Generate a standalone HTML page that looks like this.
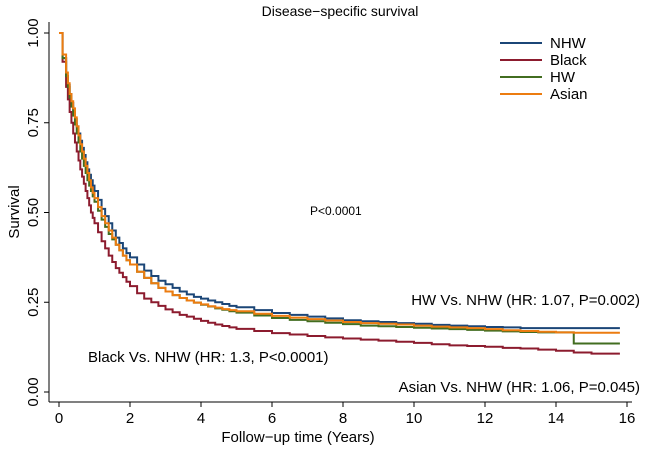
<!DOCTYPE html>
<html><head><meta charset="utf-8"><style>
body{margin:0;background:#fff;}
svg text{font-family:"Liberation Sans",sans-serif;fill:#000;}
</style></head><body>
<svg id="chart" width="650" height="451" viewBox="0 0 650 451" xmlns="http://www.w3.org/2000/svg">
<text x="340" y="16" text-anchor="middle" font-size="14">Disease−specific  survival</text>
<g id="axes"></g>
<g id="series"></g>
<text x="310" y="215" font-size="12">P&lt;0.0001</text>
<text x="640" y="305" text-anchor="end" font-size="15">HW Vs. NHW (HR: 1.07, P=0.002)</text>
<text x="88" y="362" font-size="15">Black Vs. NHW (HR: 1.3, P&lt;0.0001)</text>
<text x="640" y="392" text-anchor="end" font-size="15">Asian Vs. NHW (HR: 1.06, P=0.045)</text>
<text x="298" y="442" text-anchor="middle" font-size="15">Follow−up time (Years)</text>
<text transform="translate(19,212) rotate(-90)" text-anchor="middle" font-size="15">Survival</text>
<g><g id="legend"></g></g>
</svg>
<script>
const times=[0.05,0.1,0.15,0.2,0.25,0.3,0.35,0.4,0.45,0.5,0.55,0.6,0.65,0.7,0.75,0.8,0.85,0.9,0.95,1.0,
1.1,1.2,1.3,1.4,1.5,1.6,1.7,1.8,1.9,2.0,
2.2,2.4,2.6,2.8,3.0,3.2,3.4,3.6,3.8,4.0,4.2,4.4,4.6,4.8,5.0,
5.5,6,6.5,7,7.5,8,8.5,9,9.5,10,10.5,11,11.5,12,12.5,13,13.5,14,14.5,15,15.5,15.8];
const nhw=[1,.93,.93,.88,.855,.83,.805,.78,.76,.74,.72,.70,.68,.66,.64,.62,.605,.59,.575,.56,
.535,.51,.49,.47,.45,.43,.415,.40,.387,.375,
.355,.338,.323,.31,.30,.29,.28,.272,.265,.26,.255,.25,.245,.24,.236,
.228,.22,.215,.21,.205,.20,.197,.195,.192,.19,.187,.185,.183,.181,.18,.178,.178,.178,.178,.178,.178,.178];
const black=[1,.92,.92,.85,.815,.78,.75,.72,.695,.67,.645,.62,.60,.58,.56,.54,.52,.50,.485,.47,
.445,.42,.40,.38,.362,.345,.332,.32,.307,.295,
.275,.26,.25,.24,.23,.222,.215,.21,.204,.198,.193,.188,.184,.18,.176,
.17,.164,.16,.156,.152,.149,.146,.143,.14,.137,.133,.13,.128,.126,.123,.121,.118,.115,.11,.107,.107,.107];
const hw=[1,.93,.93,.88,.85,.82,.795,.77,.745,.72,.695,.67,.65,.63,.61,.59,.575,.56,.545,.53,
.505,.48,.46,.44,.425,.41,.395,.38,.367,.355,
.335,.318,.303,.29,.28,.27,.262,.255,.249,.243,.238,.233,.229,.225,.221,
.213,.206,.201,.197,.193,.189,.185,.183,.181,.179,.177,.175,.173,.171,.169,.167,.166,.166,.135,.135,.135,.135];
const asian=[1,.94,.94,.89,.86,.83,.81,.79,.765,.74,.715,.69,.67,.65,.63,.61,.59,.57,.555,.54,
.515,.49,.47,.45,.43,.41,.395,.38,.367,.355,
.335,.318,.303,.29,.28,.27,.262,.255,.249,.244,.239,.235,.231,.228,.225,
.218,.212,.207,.203,.199,.195,.192,.19,.188,.185,.182,.18,.178,.175,.172,.17,.168,.166,.165,.165,.165,.165];
const xTicks=[0,2,4,6,8,10,12,14,16];
const yTicks=[0,0.25,0.5,0.75,1];
const yTickLabels=["0.00","0.25","0.50","0.75","1.00"];
const seriesNames=["NHW","Black","HW","Asian"];
const seriesColors=["#1b4677","#8c1b2e","#426d20","#ec7c10"];
const NS="http://www.w3.org/2000/svg";
const X=t=>59+t*35.5, Y=v=>392-v*359;
const axes=document.getElementById('axes');
function mk(tag,attrs,parent){const e=document.createElementNS(NS,tag);for(const k in attrs)e.setAttribute(k,attrs[k]);parent.appendChild(e);return e;}
let l=mk('line',{x1:49,y1:22,x2:49,y2:402,stroke:'#000','stroke-width':1},axes);


l=mk('line',{x1:49,y1:402,x2:632,y2:402,stroke:'#000','stroke-width':1},axes);


xTicks.forEach(t=>{
 const tk=mk('line',{x1:X(t),y1:402,x2:X(t),y2:407,stroke:'#000'},axes);
 
 
 const tx=mk('text',{x:X(t),y:423,'text-anchor':'middle','font-size':15},axes);tx.textContent=t;
 
 
});
yTicks.forEach((v,i)=>{
 const tk=mk('line',{x1:44,y1:Y(v),x2:49,y2:Y(v),stroke:'#000'},axes);
 
 
 const tx=mk('text',{transform:`translate(38,${Y(v)}) rotate(-90)`,'text-anchor':'middle','font-size':15},axes);tx.textContent=yTickLabels[i];
 
 
});
const sg=document.getElementById('series');
[nhw,black,hw,asian].forEach((vals,i)=>{
 let d=`M${X(0)},${Y(1)}`;
 for(let j=0;j<times.length;j++){d+=` H${X(times[j])} V${Y(vals[j])}`;}
 const p=mk('path',{d:d,fill:'none',stroke:seriesColors[i],'stroke-width':2},sg);
 
 
});
const lg=document.getElementById('legend');
seriesNames.forEach((n,i)=>{
 const y=43+i*17;
 const ln=mk('line',{x1:500,y1:y,x2:542,y2:y,stroke:seriesColors[i],'stroke-width':2},lg);
 
 
 const tx=mk('text',{x:550,y:y+5,'font-size':15},lg);tx.textContent=n;
 
 
});
</script>
</body></html>
